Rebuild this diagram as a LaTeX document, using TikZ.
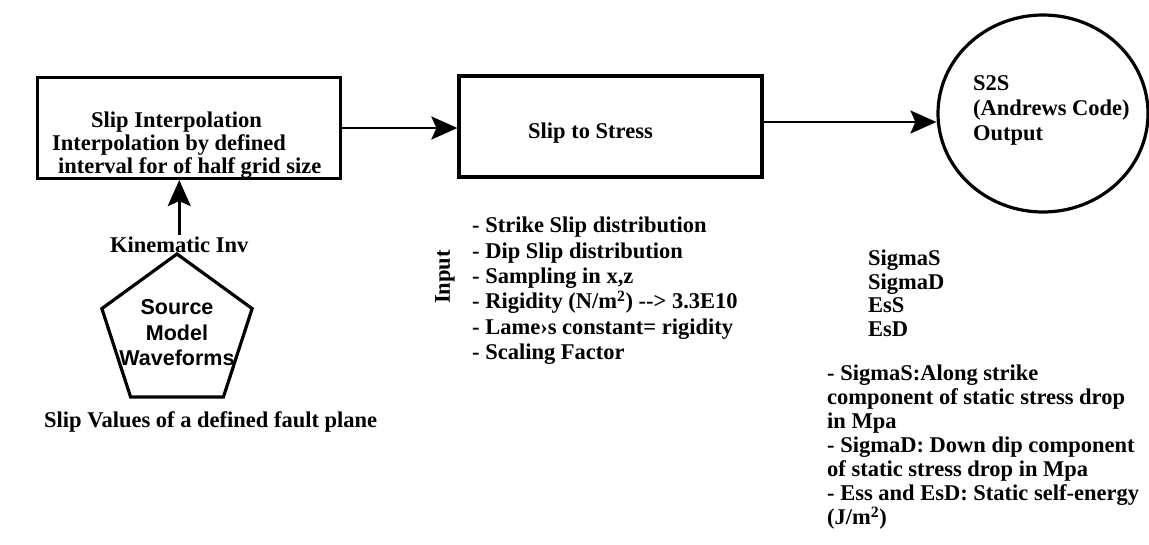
\documentclass[tikz,border=0pt]{standalone}
\usepackage{fontspec}
\setmainfont{Liberation Serif}
\newfontfamily\pentafont{Liberation Sans}
\usepackage{tikz}
\usetikzlibrary{arrows.meta, shapes.geometric}

\begin{document}
\begin{tikzpicture}[x = 1pt, y = 1pt,
    every node/.style = {inner sep = 1pt, font = \fontsize{22.5}{24}\selectfont\bfseries},
    block/.style = {draw, line width = 3.2pt, minimum width = 303pt, minimum height = 101pt},
    flow/.style = {line width = 2.7pt, -{Stealth[length = 26pt, width = 23pt, inset = 5pt]}},
    listtext/.style = {align = left, anchor = north west, inner sep = 0pt}]

    \fill[white] (+0.000, +0.000) rectangle (+1149.000, -544.000);
    \useasboundingbox (+0.000, +0.000) rectangle (+1149.000, -544.000);

    % Shapes
    \node[block] (interp) at (+189.000, -128.000) {};
    %
    \node[block] (stress) at (+610.500, -126.500) {};
    %
    \node[draw, ellipse, line width = 3.2pt, minimum width = 210pt, minimum height = 197pt] (s2s) at (+1043.000, -113.500) {};
    %
    \node[draw, regular polygon, regular polygon sides = 5, line width = 3.2pt, minimum size = 158pt] (source) at (+177.000, -333.000) {};

    % Texts in the shapes
    \node[listtext, font = \fontsize{22.5}{23}\selectfont\bfseries] (interp text) at (+52.000, -112.000) {\hspace*{39pt}Slip Interpolation\\Interpolation by defined\\\hspace*{6pt}interval for of half grid size};
    %
    \node[anchor = base west] (stress text) at (+527.000, -138.000) {Slip to Stress};
    %
    \node[listtext, font = \fontsize{22.5}{25}\selectfont\bfseries] (s2s text) at (+973.000, -75.000) {S2S\\(Andrews Code)\\Output};
    %
    \node[align = center, font = \pentafont\fontsize{21.5}{25.5}\selectfont\bfseries] (source text) at (source.center) {Source\\Model\\Waveforms};

    % Labels
    \node[anchor = base west] (kinematic) at (+109.000, -252.000) {Kinematic Inv};
    %
    \node[anchor = base west] (slip values) at (+43.000, -427.000) {Slip Values of a defined fault plane};
    %
    \node[rotate = 90] (input label) at (+445.000, -277.000) {Input};
    %
    \node[listtext, font = \fontsize{22.5}{25.3}\selectfont\bfseries] (input list) at (+472.000, -217.000) {- Strike Slip distribution\\- Dip Slip distribution\\- Sampling in x,z\\- Rigidity (N/m\textsuperscript{2}) -\kern0pt-\kern0pt> 3.3E10\\- Lame›s constant= rigidity\\- Scaling Factor};
    %
    \node[listtext, font = \fontsize{22.5}{23.5}\selectfont\bfseries] (output list) at (+868.000, -250.000) {SigmaS\\SigmaD\\EsS\\EsD};
    %
    \node[listtext] (output notes) at (+827.000, -365.000) {- SigmaS:Along strike\\component of static stress drop\\in Mpa\\- SigmaD: Down dip component\\of static stress drop in Mpa\\- Ess and EsD: Static self-energy\\(J/m\textsuperscript{2})};

    % Arrows
    \draw[flow] (interp.east) -- (interp.east -| stress.west);
    %
    \draw[flow] ([yshift = 4.5pt]stress.east) -- ([yshift = 4.5pt]stress.east -| s2s.west);
    %
    \draw[flow] (kinematic.north) -- (kinematic.north |- interp.south);
\end{tikzpicture}
\end{document}
